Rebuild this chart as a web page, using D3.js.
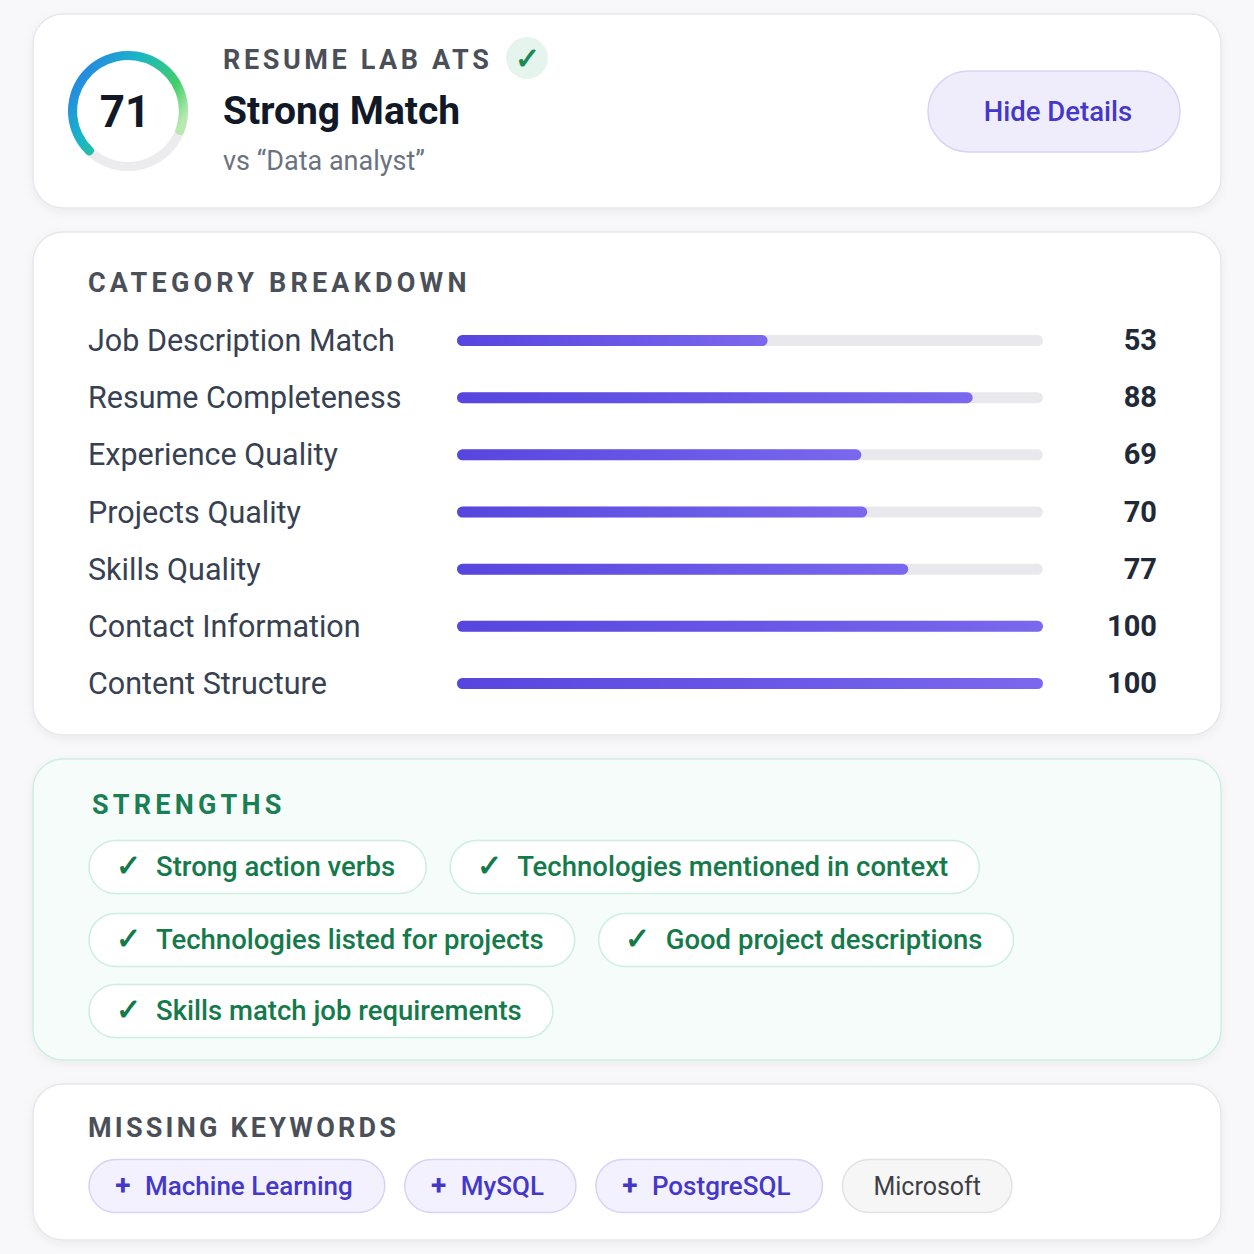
<!DOCTYPE html>
<html><head><meta charset="utf-8">
<script src="https://cdn.jsdelivr.net/npm/d3@7"></script>
<style>body{margin:0;background:#f8f8fa;font-family:Roboto,"Noto Sans",sans-serif}</style>
</head><body><svg id="c" width="1254" height="1254"></svg>
<script>
var score = 71,
    verdict = "Strong Match",
    role = "vs \u201cData analyst\u201d",
    categories = ["Job Description Match", "Resume Completeness", "Experience Quality", "Projects Quality", "Skills Quality", "Contact Information", "Content Structure"],
    values = [53, 88, 69, 70, 77, 100, 100],
    strengthRows = [["Strong action verbs", "Technologies mentioned in context"], ["Technologies listed for projects", "Good project descriptions"], ["Skills match job requirements"]],
    missing = ["Machine Learning", "MySQL", "PostgreSQL"],
    other = ["Microsoft"]

var svg = d3.select("#c")
var defs = svg.append("defs")
var sh = defs.append("filter").attr("id", "sh").attr("x", "-5%").attr("y", "-10%").attr("width", "110%").attr("height", "130%")
sh.append("feDropShadow").attr("dx", 0).attr("dy", 3).attr("stdDeviation", 5).attr("flood-color", "#000").attr("flood-opacity", 0.05)
var bg = defs.append("linearGradient").attr("id", "bar")
bg.append("stop").attr("offset", "0%").attr("stop-color", "#5646df")
bg.append("stop").attr("offset", "100%").attr("stop-color", "#7a68ee")
var rg = defs.append("linearGradient").attr("id", "ring").attr("x1", "0").attr("y1", "0").attr("x2", "1").attr("y2", "0.6")
rg.append("stop").attr("offset", "0%").attr("stop-color", "#2f6ef0")
rg.append("stop").attr("offset", "45%").attr("stop-color", "#18b5c8")
rg.append("stop").attr("offset", "80%").attr("stop-color", "#3fcf6a")
rg.append("stop").attr("offset", "100%").attr("stop-color", "#b8eab0")

function card(y, h, fill, stroke) {
    svg.append("rect").attr("x", 33).attr("y", y).attr("width", 1188).attr("height", h).attr("rx", 30)
        .attr("fill", fill).attr("stroke", stroke).attr("stroke-width", 1.5).attr("filter", "url(#sh)")
}
function title(x, y, t, col, sp) {
    svg.append("text").attr("x", x).attr("y", y).text(t).attr("font-size", 27).attr("font-weight", 700)
        .attr("letter-spacing", sp).attr("fill", col)
}

// header
card(14, 194, "#fff", "#e6e7eb")
var cx = 128, cy = 111
svg.append("circle").attr("cx", cx).attr("cy", cy).attr("r", 52).attr("fill", "#fff").attr("filter", "url(#sh)")
var arc = d3.arc().innerRadius(51).outerRadius(60)
var a0 = -Math.PI * 0.78
svg.append("path").attr("transform", "translate(" + cx + "," + cy + ")")
    .attr("d", arc({startAngle: 0, endAngle: 2 * Math.PI})).attr("fill", "#ececef")
svg.append("path").attr("transform", "translate(" + cx + "," + cy + ")")
    .attr("d", arc.cornerRadius(4)({startAngle: a0, endAngle: a0 + 2 * Math.PI * score / 100})).attr("fill", "url(#ring)")
svg.append("text").attr("x", cx - 3).attr("y", cy + 16).attr("text-anchor", "middle").text(score)
    .attr("font-size", 44).attr("font-weight", 700).attr("fill", "#111827")
title(223, 69, "RESUME LAB ATS", "#4b5058", 3.6)
svg.append("circle").attr("cx", 527).attr("cy", 58).attr("r", 21).attr("fill", "#e5f5ed")
svg.append("text").attr("x", 527).attr("y", 69).attr("text-anchor", "middle").text("\u2713")
    .attr("font-size", 30).attr("font-weight", 700).attr("fill", "#1a8a55")
svg.append("text").attr("x", 223).attr("y", 124).text(verdict).attr("font-size", 39).attr("font-weight", 700).attr("fill", "#111827")
svg.append("text").attr("x", 223).attr("y", 170).text(role).attr("font-size", 27).attr("fill", "#6b7280")
svg.append("rect").attr("x", 928).attr("y", 71).attr("width", 252).attr("height", 81).attr("rx", 40.5)
    .attr("fill", "#efedfc").attr("stroke", "#d9d4f7").attr("stroke-width", 1.5)
svg.append("text").attr("x", 1058).attr("y", 121).attr("text-anchor", "middle").text("Hide Details")
    .attr("font-size", 27.5).attr("font-weight", 500).attr("fill", "#4338ca")

// breakdown
card(232, 503, "#fff", "#e6e7eb")
title(88, 292, "CATEGORY BREAKDOWN", "#4b5058", 4.2)
var x = d3.scaleLinear().domain([0, 100]).range([457, 1043])
var y = d3.scalePoint().domain(categories).range([341, 684])
var row = svg.selectAll("g.row").data(categories).join("g").attr("class", "row")
row.append("text").attr("x", 88).attr("y", function(d) { return y(d) + 10 }).text(function(d) { return d })
    .attr("font-size", 30.5).attr("fill", "#374151")
row.append("rect").attr("x", x(0)).attr("y", function(d) { return y(d) - 6 }).attr("width", x(100) - x(0))
    .attr("height", 11).attr("rx", 5.5).attr("fill", "#e9e9ed")
row.append("rect").attr("x", x(0)).attr("y", function(d) { return y(d) - 6 })
    .attr("width", function(d, i) { return x(values[i]) - x(0) }).attr("height", 11).attr("rx", 5.5).attr("fill", "url(#bar)")
row.append("text").attr("x", 1157).attr("y", function(d) { return y(d) + 9 }).attr("text-anchor", "end")
    .text(function(d, i) { return values[i] }).attr("font-size", 29).attr("font-weight", 700).attr("fill", "#1f2937")

// strengths
card(759, 301, "#f5fcfa", "#cdeee1")
title(92, 814, "STRENGTHS", "#1a7f55", 4.2)
function pill(x0, yc, prefix, label, o) {
    var g = svg.append("g")
    var r = g.append("rect").attr("y", yc - 26.5).attr("height", 53).attr("rx", 26.5).attr("x", x0)
        .attr("fill", o.fill).attr("stroke", o.stroke).attr("stroke-width", 1.5)
    var tx = x0 + o.pad
    if (prefix) {
        g.append("text").attr("x", x0 + o.pre).attr("y", yc + 9).attr("text-anchor", "middle").text(prefix)
            .attr("font-size", o.ps).attr("font-weight", 700).attr("fill", o.col)
    }
    var t = g.append("text").attr("x", tx).attr("y", yc + 9).text(label).attr("font-size", o.fs)
        .attr("font-weight", o.fw).attr("fill", o.col)
    var w = t.node().getComputedTextLength() + o.pad + o.end
    r.attr("width", w)
    return x0 + w
}
var sy = [867, 940, 1011]
var so = {fill: "#fff", stroke: "#cdeee0", col: "#157a4b", pad: 67, end: 31, pre: 39, ps: 30, fs: 27.5, fw: 500}
strengthRows.forEach(function(r, i) {
    var xx = 89
    r.forEach(function(s) { xx = pill(xx, sy[i], "\u2713", s, so) + 24 })
})

// missing
card(1084, 156, "#fff", "#e6e7eb")
title(88, 1137, "MISSING KEYWORDS", "#4b5058", 3.2)
var mo = {fill: "#f3f1fe", stroke: "#d8d2f5", col: "#4338ca", pad: 56, end: 32, pre: 34, ps: 28, fs: 26, fw: 500}
var xx = 89
missing.forEach(function(m) { xx = pill(xx, 1186, "+", m, mo) + 20 })
other.forEach(function(m) {
    xx = pill(xx, 1186, null, m, {fill: "#f6f6f7", stroke: "#e2e2e6", col: "#3f3f46", pad: 31, end: 31, fs: 25, fw: 400}) + 20
})
</script></body></html>
